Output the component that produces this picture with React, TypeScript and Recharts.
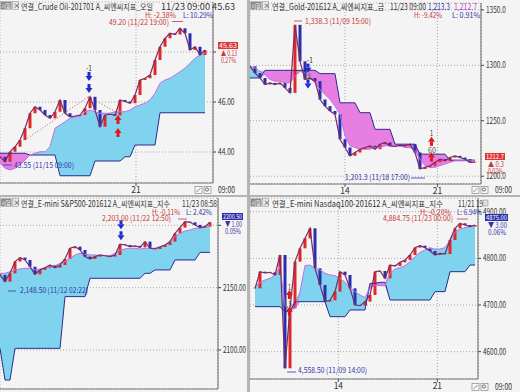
import React from "react";
import {
  ComposedChart,
  Area,
  Line,
  Bar,
  Cell,
  XAxis,
  YAxis,
  CartesianGrid,
  ReferenceDot,
  ReferenceLine,
} from "recharts";

// ---------- Crude Oil ----------
const crudeClose = [43.81, 43.61, 44.01, 44.21, 44.48, 44.95, 45.55, 45.81, 45.68, 45.48, 45.35, 45.61, 46.08, 45.55, 45.41, 45.44, 45.48, 45.75, 46.21, 45.68, 45.01, 45.48, 45.52, 45.46, 46.08, 46.02, 45.95, 46.28, 46.88, 46.95, 47.08, 47.68, 48.21, 48.55, 48.75, 48.7, 48.95, 48.75, 48.08, 48.21, 47.88, 48.08];
const crudeSpanA = [43.55, 43.35, 43.28, 43.35, 43.48, 43.68, 43.88, 43.95, 44.01, 44.01, 44.21, 44.95, 45.08, 45.21, 45.35, 45.41, 45.41, 45.61, 45.68, 45.61, 45.55, 45.55, 45.55, 45.61, 45.61, 45.61, 45.68, 45.81, 45.88, 45.95, 46.08, 46.35, 46.75, 46.88, 46.95, 47.08, 47.21, 47.35, 47.55, 47.75, 47.88, 47.95];
const crudeSpanB = [43.95, 43.95, 43.95, 43.95, 43.95, 43.95, 43.88, 43.88, 43.88, 43.88, 43.88, 43.88, 43.05, 43.05, 43.05, 43.05, 43.05, 43.05, 43.05, 43.64, 43.64, 43.64, 43.64, 43.64, 43.64, 43.81, 43.81, 44.28, 44.28, 44.28, 44.28, 44.28, 45.57, 45.57, 45.57, 45.57, 45.57, 45.57, 45.57, 45.57, 45.57, 45.57];
const crudeYTicks = [44, 46, 48];
const crudeXTicks = [27.2];
const crudeXLabels = ["21"];
const crudeSignals = [
  { x: 17.8, y: 47.0, dir: "down" },
  { x: 17.8, y: 46.52, dir: "down" },
  { x: 23.6, y: 45.32, dir: "up" },
  { x: 23.6, y: 44.8, dir: "up" },
];
const crudeSegments = [
  { x1: 5, y1: 44.48, x2: 17.67, y2: 46.21 },
  { x1: 17.67, y1: 46.21, x2: 23.67, y2: 45.55 },
];

// ---------- Gold ----------
const goldClose = [1299.1, 1293.1, 1288.6, 1282.7, 1284.2, 1282.7, 1284.2, 1279.7, 1275.2, 1336.5, 1303.6, 1287.2, 1288.6, 1285.7, 1269.2, 1263.2, 1258.8, 1255.8, 1233.4, 1225.9, 1218.4, 1221.4, 1224.4, 1225.9, 1227.4, 1224.4, 1228.9, 1230.4, 1227.4, 1226.8, 1228.1, 1227.4, 1228.9, 1221.4, 1206.5, 1208.0, 1209.5, 1212.5, 1215.4, 1213.9, 1216.9, 1218.4, 1216.9, 1215.4, 1212.5, 1212.7];
const goldSpanA = [1299.1, 1297.6, 1294.6, 1291.6, 1287.2, 1285.7, 1285.7, 1284.2, 1284.2, 1290.1, 1294.6, 1293.1, 1288.6, 1284.2, 1278.2, 1273.7, 1269.2, 1263.2, 1255.8, 1236.4, 1227.4, 1225.9, 1224.4, 1224.4, 1224.4, 1225.9, 1225.9, 1227.4, 1227.4, 1227.4, 1227.4, 1225.9, 1225.9, 1222.9, 1215.4, 1209.5, 1208.0, 1208.0, 1209.5, 1211.0, 1212.5, 1213.9, 1213.9, 1213.9, 1213.9, 1213.9];
const goldSpanB = [1288.6, 1288.6, 1288.6, 1295.5, 1295.5, 1295.5, 1295.5, 1295.5, 1295.5, 1295.5, 1295.5, 1295.5, 1295.5, 1295.5, 1292.5, 1292.5, 1292.5, 1292.5, 1266.2, 1266.2, 1266.2, 1266.2, 1257.3, 1257.3, 1257.3, 1242.3, 1242.3, 1242.3, 1242.3, 1228.9, 1228.9, 1228.9, 1228.9, 1228.9, 1219.9, 1219.9, 1219.9, 1219.9, 1219.9, 1219.9, 1214.5, 1214.5, 1214.5, 1214.5, 1214.5, 1214.5];
const goldYTicks = [1200, 1250, 1300, 1350];
const goldXTicks = [19, 37.5];
const goldXLabels = ["14", "21"];
const goldSignals = [
  { x: 11.6, y: 1297.0, dir: "down" },
  { x: 11.6, y: 1282.7, dir: "down" },
  { x: 36.3, y: 1231.9, dir: "up" },
  { x: 36.3, y: 1217.8, dir: "up" },
];

// ---------- E-mini S&P500 ----------
const spxClose = [2160.2, 2154.8, 2161.5, 2170.9, 2174.1, 2172.2, 2166.8, 2160.7, 2164.2, 2166.0, 2168.2, 2166.0, 2168.2, 2173.0, 2181.6, 2182.9, 2180.2, 2174.9, 2173.0, 2174.9, 2176.2, 2175.6, 2174.9, 2176.2, 2184.8, 2184.2, 2182.9, 2183.5, 2182.3, 2186.9, 2181.6, 2181.0, 2182.6, 2184.2, 2186.9, 2193.6, 2198.1, 2202.9, 2202.4, 2200.3, 2198.1, 2198.9, 2202.4];
const spxSpanA = [2161.5, 2161.5, 2162.8, 2164.2, 2165.0, 2165.5, 2165.5, 2164.2, 2165.0, 2166.0, 2166.8, 2167.6, 2169.5, 2170.9, 2173.5, 2176.2, 2177.5, 2176.7, 2176.2, 2176.2, 2175.7, 2175.7, 2175.7, 2177.5, 2180.2, 2181.0, 2181.6, 2181.6, 2181.0, 2181.6, 2181.6, 2181.6, 2182.9, 2184.2, 2186.9, 2190.9, 2193.6, 2195.5, 2196.3, 2197.6, 2197.6, 2198.9, 2200.3];
const spxSpanB = [2101.3, 2075.9, 2075.9, 2101.3, 2101.3, 2101.3, 2101.3, 2101.3, 2101.3, 2101.3, 2101.3, 2101.3, 2101.3, 2142.8, 2142.8, 2142.8, 2142.8, 2142.8, 2157.5, 2157.5, 2157.5, 2157.5, 2157.5, 2157.5, 2157.5, 2157.5, 2157.5, 2157.5, 2157.5, 2161.5, 2161.5, 2164.2, 2164.2, 2164.2, 2164.2, 2172.2, 2172.2, 2172.2, 2172.2, 2172.2, 2178.3, 2178.3, 2178.3];
const spxYTicks = [2100, 2150, 2200];
const spxXTicks = [3.13, 30.67];
const spxXLabels = ["14", "21"];
const spxSignals = [
  { x: 24.2, y: 2200.0, dir: "down" },
  { x: 24.2, y: 2191.2, dir: "down" },
];

// ---------- E-mini Nasdaq100 ----------
const ndxClose = [4735.7, 4771.4, 4768.6, 4770.0, 4764.3, 4807.1, 4564.3, 4692.9, 4792.9, 4821.4, 4842.9, 4864.3, 4778.6, 4742.9, 4707.1, 4710.0, 4728.6, 4771.4, 4764.3, 4735.7, 4700.0, 4698.6, 4707.1, 4721.4, 4771.4, 4772.9, 4757.1, 4785.7, 4783.6, 4791.4, 4796.4, 4807.1, 4822.9, 4827.1, 4822.9, 4815.7, 4807.1, 4810.7, 4809.3, 4839.3, 4864.3, 4875.0, 4871.4, 4867.9, 4871.4];
const ndxSpanA = [4739.3, 4748.6, 4753.6, 4757.1, 4764.3, 4782.1, 4700.0, 4689.3, 4692.9, 4728.6, 4784.3, 4785.7, 4778.6, 4775.0, 4767.9, 4764.3, 4762.9, 4757.1, 4748.6, 4737.1, 4728.6, 4721.4, 4715.7, 4735.7, 4742.9, 4741.4, 4741.4, 4767.9, 4777.1, 4780.0, 4784.3, 4792.9, 4803.6, 4812.9, 4817.9, 4821.4, 4820.0, 4820.0, 4822.9, 4839.3, 4855.7, 4862.9, 4865.7, 4867.9, 4867.9];
const ndxSpanB = [4696.4, 4696.4, 4696.4, 4696.4, 4696.4, 4696.4, 4685.7, 4685.7, 4707.1, 4707.1, 4707.1, 4707.1, 4707.1, 4707.1, 4707.1, 4675.0, 4675.0, 4675.0, 4675.0, 4689.3, 4689.3, 4689.3, 4689.3, 4746.4, 4746.4, 4748.6, 4748.6, 4710.7, 4710.7, 4710.7, 4710.7, 4710.7, 4710.7, 4710.7, 4710.7, 4710.7, 4728.6, 4728.6, 4728.6, 4771.4, 4771.4, 4771.4, 4771.4, 4785.7, 4785.7];
const ndxYTicks = [4600, 4700, 4800, 4900];
const ndxXTicks = [16.67, 36.47];
const ndxXLabels = ["14", "21"];
const ndxSignals = [
  { x: 6.87, y: 4723.6, dir: "up" },
  { x: 6.87, y: 4687.9, dir: "up" },
];

const UP = "#e02828";
const DOWN = "#2830b0";
const CLOUD_UP = "#80d3ef";
const CLOUD_DN = "#e67fe1";
const RED = "#c83838";
const BLUE = "#3434a8";
const INK = "#333";
const FONT = "'Noto Sans CJK KR', 'Noto Sans', sans-serif";

function buildRows(close, spanA, spanB, start, eps) {
  return close.map((c, i) => {
    const o = i ? close[i - 1] : c;
    const lo = Math.min(o, c);
    const hi = Math.max(Math.max(o, c), lo + eps);
    const a = spanA[i];
    const b = spanB[i];
    return {
      x: start + i,
      close: c,
      body: [lo, hi],
      up: c >= o,
      spanA: a,
      spanB: b,
      blue: [b, Math.max(a, b)],
      pink: [Math.min(a, b), b],
    };
  });
}

function Arrow(props) {
  const { cx, cy, dir } = props;
  if (cx == null || cy == null) return <g />;
  const down = dir === "down";
  const color = down ? "#1c2cd0" : "#e01818";
  const s = down ? 1 : -1;
  return (
    <g>
      <rect x={cx - 1.5} y={down ? cy - 5 : cy + 1} width={3} height={4} fill={color} />
      <polygon
        points={`${cx - 3.5},${cy - 1 * s} ${cx + 3.5},${cy - 1 * s} ${cx},${cy + 4 * s}`}
        fill={color}
      />
    </g>
  );
}

function Txt({ x, y, t, c = INK, w, s = 9 }) {
  return (
    <text
      x={x}
      y={y}
      fill={c}
      fontSize={s}
      fontFamily={FONT}
      textLength={w}
      lengthAdjust={w ? "spacingAndGlyphs" : undefined}
    >
      {t}
    </text>
  );
}

function Header() {
  return (
    <g>
      <rect x={0.5} y={1.5} width={11} height={8} fill="#8a8a8a" />
      <text x={1.5} y={8} fontSize={6} fill="#fff" fontFamily={FONT} textLength={9} lengthAdjust="spacingAndGlyphs">
        시험
      </text>
      <rect x={12.5} y={1.5} width={6} height={8} fill="#e8e8e8" stroke="#888" strokeWidth={0.5} />
      <text x={13.3} y={8} fontSize={7} fill="#222" fontFamily={FONT}>
        ×
      </text>
    </g>
  );
}

function Footer({ x }) {
  return (
    <g>
      <rect x={x} y={186.5} width={7} height={7} fill="#f8f8f8" stroke="#777" strokeWidth={0.6} />
      <line x1={x + 1.5} y1={192} x2={x + 5.5} y2={188} stroke="#555" strokeWidth={0.7} />
      <rect x={x + 9} y={186.5} width={7} height={7} fill="#f8f8f8" stroke="#777" strokeWidth={0.6} />
      <circle cx={x + 12} cy={189.5} r={1.6} fill="none" stroke="#333" strokeWidth={0.7} />
      <Txt x={x + 23} y={193} t="09:00" w={17} s={8.5} />
    </g>
  );
}

function PriceBox({ x, y, w, fill, t, chg, pct, up }) {
  const c = up ? RED : BLUE;
  return (
    <g>
      <rect x={x} y={y} width={w} height={7} fill={fill} />
      <Txt x={x + 1} y={y + 6} t={t} c="#fff" s={7} w={w - 2} />
      <Txt x={x + 3} y={y + 13.5} t={(up ? "▲ " : "▼ ") + chg} c={c} s={7.5} w={w - 4} />
      <Txt x={x + 3} y={y + 20.5} t={pct} c={c} s={7.5} w={w - 5} />
    </g>
  );
}

function Dash({ x1, x2, y, c }) {
  return <line x1={x1} x2={x2} y1={y} y2={y} stroke={c} strokeWidth={0.8} />;
}

function Panel(p) {
  const rows = buildRows(p.close, p.spanA, p.spanB, p.start, p.eps);
  const yTick = (props) => {
    const v = props.payload.value;
    if (p.yHide.includes(v)) return <g />;
    const s = v.toFixed(p.digits);
    return (
      <text x={props.x} y={props.y + 3} fontSize={8.5} fill="#333" fontFamily={FONT} textLength={s.length * 3.3} lengthAdjust="spacingAndGlyphs">
        {s}
      </text>
    );
  };
  const xTick = (props) => {
    const idx = p.xTicks.indexOf(props.payload.value);
    return (
      <text x={props.x} y={props.y + 4.5} fontSize={8.5} fill="#333" fontFamily={FONT} textAnchor="middle">
        {p.xLabels[idx] ?? ""}
      </text>
    );
  };
  return (
    <div
      style={{
        position: "absolute",
        left: p.left,
        top: p.top,
        width: p.width,
        height: p.height,
        background: "#f4f4f4",
        overflow: "hidden",
      }}
    >
      <ComposedChart
        width={p.width}
        height={p.height}
        data={rows}
        margin={{ top: p.marginTop, right: 0, bottom: 0, left: 0 }}
      >
        <CartesianGrid stroke="#a8a8a8" strokeDasharray="1 2" />
        <XAxis
          type="number"
          dataKey="x"
          domain={p.xDomain}
          ticks={p.xTicks}
          allowDataOverflow
          height={p.xAxisHeight}
          tick={p.showX ? xTick : false}
          tickSize={p.showX ? 3 : 0}
          axisLine={{ stroke: "#777" }}
          tickLine={{ stroke: "#555" }}
        />
        <YAxis
          orientation="right"
          type="number"
          domain={p.yDomain}
          ticks={p.yTicks}
          allowDataOverflow
          width={p.yAxisWidth}
          tickSize={3}
          tickMargin={2}
          tick={yTick}
          axisLine={{ stroke: "#666" }}
          tickLine={{ stroke: "#444" }}
        />
        <Area dataKey="blue" type="linear" fill={CLOUD_UP} fillOpacity={1} stroke="none" isAnimationActive={false} />
        <Area dataKey="pink" type="linear" fill={CLOUD_DN} fillOpacity={1} stroke="none" isAnimationActive={false} />
        <Line dataKey="spanB" type="linear" stroke="#2b2b8e" strokeWidth={1} dot={false} isAnimationActive={false} />
        <Line dataKey="spanA" type="linear" stroke="#c36ee0" strokeWidth={1} dot={false} isAnimationActive={false} />
        {(p.segments || []).map((s, i) => (
          <ReferenceLine
            key={"s" + i}
            segment={[
              { x: s.x1, y: s.y1 },
              { x: s.x2, y: s.y2 },
            ]}
            stroke="#d05050"
            strokeDasharray="1 2"
          />
        ))}
        <Line dataKey="close" type="linear" stroke="#7a2c66" strokeWidth={1.2} dot={false} isAnimationActive={false} />
        <Bar dataKey="body" barSize={3} isAnimationActive={false}>
          {rows.map((r, i) => (
            <Cell key={i} fill={r.up ? UP : DOWN} />
          ))}
        </Bar>
        {p.signals.map((s, i) => (
          <ReferenceDot key={"g" + i} x={s.x} y={s.y} r={4} shape={(props) => <Arrow {...props} dir={s.dir} />} />
        ))}
      </ComposedChart>
      <svg
        width={p.width}
        height={p.height}
        style={{ position: "absolute", left: 0, top: 0, pointerEvents: "none" }}
      >
        <Header />
        {p.overlay}
      </svg>
    </div>
  );
}

export default function App() {
  return (
    <div
      style={{
        position: "fixed",
        left: 0,
        top: 0,
        width: 520,
        height: 392,
        background: "#b4b4b4",
        overflow: "hidden",
      }}
    >
      <Panel
        left={0}
        top={0}
        width={247}
        height={195}
        marginTop={2}
        xAxisHeight={12}
        yAxisWidth={34}
        yDomain={[42.76, 50.0]}
        xDomain={[0, 42.6]}
        yTicks={crudeYTicks}
        yHide={[48]}
        digits={2}
        xTicks={crudeXTicks}
        xLabels={crudeXLabels}
        showX
        start={0}
        eps={0.03}
        close={crudeClose}
        spanA={crudeSpanA}
        spanB={crudeSpanB}
        signals={crudeSignals}
        segments={crudeSegments}
        overlay={
          <g>
            <Txt x={21} y={9.5} t="연결_Crude Oil-201701 A_씨엔씨지표_오일" w={132} s={8.5} />
            <Txt x={161} y={9.5} t="11/23 09:00 45.63" w={74} s={8.5} />
            <Txt x={145} y={17.5} t="H: -2.38%" c={RED} w={31} s={8} />
            <Txt x={183} y={17.5} t="L: 10.29%" c={BLUE} w={30} s={8} />
            <Txt x={109} y={25} t="49.20 (11/22 19:00)" c={RED} w={60} s={8} />
            <Dash x1={172} x2={183} y={21.5} c={RED} />
            <Txt x={14} y={168} t="43.55 (11/15 09:00)" c={BLUE} w={60} s={8} />
            <Dash x1={3} x2={12} y={165} c={BLUE} />
            <Txt x={86} y={71} t="-1" w={6} s={8} />
            <PriceBox x={218} y={42} w={20} fill="#e03434" t="45.63" chg="0.13" pct="0.27%" up />
            <Footer x={195} />
          </g>
        }
      />
      <Panel
        left={250}
        top={0}
        width={270}
        height={195}
        marginTop={3}
        xAxisHeight={11}
        yAxisWidth={39}
        yDomain={[1193.0, 1356.2]}
        xDomain={[0, 46.2]}
        yTicks={goldYTicks}
        yHide={[]}
        digits={1}
        xTicks={goldXTicks}
        xLabels={goldXLabels}
        showX
        start={0}
        eps={0.6}
        close={goldClose}
        spanA={goldSpanA}
        spanB={goldSpanB}
        signals={goldSignals}
        overlay={
          <g>
            <Txt x={22} y={9.5} t="연결_Gold-201612 A_씨엔씨지표_금" w={112} s={8.5} />
            <Txt x={140} y={9.5} t="11/23 09:00" w={36} s={8.5} />
            <Txt x={178} y={9.5} t="1,213.3" c={BLUE} w={22} s={8.5} />
            <Txt x={204} y={9.5} t="1,212.7" c="#c248c8" w={23} s={8.5} />
            <Txt x={164} y={17.5} t="H: -9.42%" c={RED} w={28} s={8} />
            <Txt x={202} y={17.5} t="L: 0.91%" c={BLUE} w={28} s={8} />
            <Txt x={55} y={24} t="1,338.3 (11/09 15:00)" c={RED} w={66} s={8} />
            <Dash x1={44} x2={52} y={21} c={RED} />
            <Txt x={95} y={180} t="1,201.3 (11/18 17:00)" c={BLUE} w={65} s={8} />
            <Dash x1={161} x2={175} y={178} c={BLUE} />
            <Txt x={57} y={63} t="-1" w={6} s={8} />
            <Txt x={54} y={79} t="34" c="#666" w={7} s={8} />
            <Txt x={180} y={136} t="1" w={3} s={8} />
            <Txt x={178} y={153} t="60" c="#555" w={8} s={8} />
            <PriceBox x={235} y={153} w={20} fill="#e03434" t="1212.7" chg="0.3" pct="0.02%" up />
            <Footer x={222} />
          </g>
        }
      />
      <Panel
        left={0}
        top={197}
        width={247}
        height={195}
        marginTop={1}
        xAxisHeight={3}
        yAxisWidth={29}
        yDomain={[2068.7, 2221.9]}
        xDomain={[0, 43.6]}
        yTicks={spxYTicks}
        yHide={[2200]}
        digits={2}
        xTicks={spxXTicks}
        xLabels={spxXLabels}
        showX={false}
        start={0}
        eps={0.5}
        close={spxClose}
        spanA={spxSpanA}
        spanB={spxSpanB}
        signals={spxSignals}
        overlay={
          <g>
            <Txt x={21} y={9.5} t="연결_E-mini S&P500-201612 A_씨엔씨지표_지수" w={149} s={8.5} />
            <Txt x={182} y={9.5} t="11/23 08:58" w={35} s={8.5} />
            <Txt x={152} y={17.5} t="H: -0.11%" c={RED} w={28} s={8} />
            <Txt x={186} y={17.5} t="L: 2.42%" c={BLUE} w={26} s={8} />
            <Txt x={102} y={24} t="2,203.00 (11/22 12:50)" c={RED} w={69} s={8} />
            <Dash x1={178} x2={187} y={22} c={RED} />
            <Txt x={20} y={96} t="2,148.50 (11/12 02:22)" c={BLUE} w={68} s={8} />
            <Dash x1={8} x2={16} y={94} c={BLUE} />
            <PriceBox x={222} y={16} w={21} fill="#2a30a8" t="2200.50" chg="1.00" pct="0.05%" up={false} />
          </g>
        }
      />
      <Panel
        left={250}
        top={197}
        width={270}
        height={195}
        marginTop={1}
        xAxisHeight={13}
        yAxisWidth={42}
        yDomain={[4541.4, 4929.3]}
        xDomain={[-1, 44.6]}
        yTicks={ndxYTicks}
        yHide={[]}
        digits={2}
        xTicks={ndxXTicks}
        xLabels={ndxXLabels}
        showX
        start={0}
        eps={1.2}
        close={ndxClose}
        spanA={ndxSpanA}
        spanB={ndxSpanB}
        signals={ndxSignals}
        overlay={
          <g>
            <Txt x={22} y={9.5} t="연결_E-mini Nasdaq100-201612 A_씨엔씨지표_지수" w={171} s={8.5} />
            <Txt x={208} y={9.5} t="11/21 19" w={25} s={8.5} />
            <rect x={233} y={3} width={5} height={6} fill="#ddd" stroke="#888" strokeWidth={0.5} />
            <Txt x={170} y={17.5} t="H: -0.20%" c={RED} w={31} s={8} />
            <Txt x={207} y={17.5} t="L: 6.94%" c={BLUE} w={25} s={8} />
            <Txt x={133} y={24} t="4,884.75 (11/23 00:00)" c={RED} w={70} s={8} />
            <Dash x1={207} x2={218} y={22} c={RED} />
            <Txt x={48} y={176} t="4,558.50 (11/09 14:00)" c={BLUE} w={69} s={8} />
            <Dash x1={37} x2={46} y={175} c={BLUE} />
            <Txt x={38} y={93} t="1" w={3} s={8} />
            <Txt x={33} y={110} t="0.5" c="#555" w={9} s={8} />
            <PriceBox x={235} y={17} w={23} fill="#2a30a8" t="4875.00" chg="3.00" pct="0.06%" up={false} />
            <Footer x={222} />
          </g>
        }
      />
    </div>
  );
}
